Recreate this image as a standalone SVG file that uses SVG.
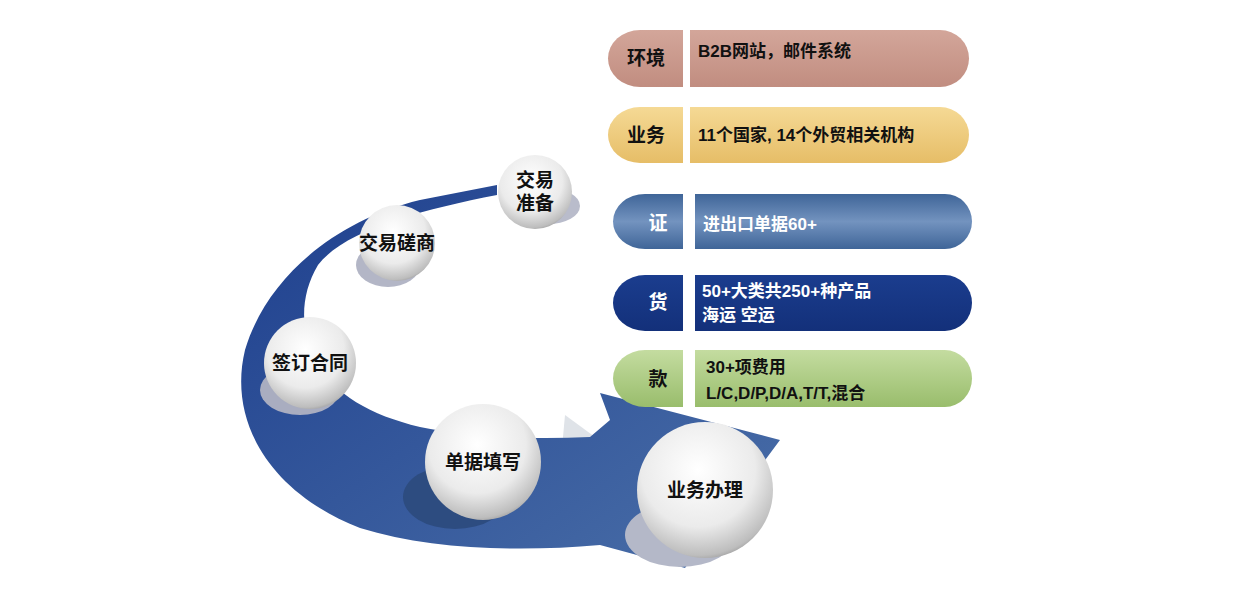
<svg xmlns="http://www.w3.org/2000/svg" width="1242" height="600" viewBox="0 0 1242 600">
<defs>
<style>
.t{font-family:"Liberation Sans","Noto Sans CJK SC",sans-serif;font-weight:bold}
.c{font-size:19px;fill:#111;text-anchor:middle}
.b{font-size:17px}
</style>
<radialGradient id="ball" cx="0.45" cy="0.35" r="0.7">
<stop offset="0" stop-color="#ffffff"/><stop offset="0.6" stop-color="#ebebeb"/><stop offset="0.9" stop-color="#bdbdbd"/><stop offset="1" stop-color="#8f8f8f"/>
</radialGradient>
<linearGradient id="sw" x1="0" y1="0" x2="1" y2="1">
<stop offset="0" stop-color="#1e3f8e"/><stop offset="1" stop-color="#4a6fa8"/>
</linearGradient>
<linearGradient id="g1" x1="0" y1="0" x2="0" y2="1"><stop offset="0" stop-color="#d3a69a"/><stop offset="1" stop-color="#c18d80"/></linearGradient>
<linearGradient id="g2" x1="0" y1="0" x2="0" y2="1"><stop offset="0" stop-color="#f5d995"/><stop offset="1" stop-color="#e6bd67"/></linearGradient>
<linearGradient id="g3" x1="0" y1="0" x2="0" y2="1"><stop offset="0" stop-color="#3f6598"/><stop offset="0.5" stop-color="#7393bf"/><stop offset="1" stop-color="#3f6598"/></linearGradient>
<linearGradient id="g4" x1="0" y1="0" x2="0" y2="1"><stop offset="0" stop-color="#1b3d8e"/><stop offset="1" stop-color="#13307a"/></linearGradient>
<linearGradient id="g5" x1="0" y1="0" x2="0" y2="1"><stop offset="0" stop-color="#c4dca0"/><stop offset="1" stop-color="#99bd6c"/></linearGradient>
</defs>
<rect width="1242" height="600" fill="#fff"/>
<g id="connectors">
<path d="M565,415 L640,470 L560,470 Z" fill="#dfe3e8"/>
<path d="M497,185 L420,200 C330,222 265,282 245,350 C228,420 268,492 360,528 C430,550 520,552 600,545 L685,568 L780,440 L600,393 L610,420 L590,437 C530,440 470,437 420,427 C370,415 335,395 315,360 C300,330 300,295 318,265 C345,230 420,210 497,195 Z" fill="url(#sw)"/>
</g>
<g id="n1"><ellipse cx="548" cy="206" rx="32" ry="18" fill="#b9bccb"/><circle cx="535" cy="192" r="37" fill="url(#ball)"/><text class="t c" x="535" y="187">交易</text><text class="t c" x="535" y="210">准备</text></g>
<g id="n2"><ellipse cx="388" cy="265" rx="32" ry="22" fill="#b3b6c6"/><circle cx="397" cy="243" r="38" fill="url(#ball)"/><text class="t c" x="397" y="250">交易磋商</text></g>
<g id="n3"><ellipse cx="300" cy="390" rx="40" ry="25" fill="#a9adc0"/><circle cx="310" cy="363" r="46" fill="url(#ball)"/><text class="t c" x="310" y="370">签订合同</text></g>
<g id="n4"><ellipse cx="455" cy="497" rx="52" ry="32" fill="#2d4c80"/><circle cx="483" cy="462" r="58" fill="url(#ball)"/><text class="t c" x="483" y="469">单据填写</text></g>
<g id="n5"><ellipse cx="680" cy="535" rx="55" ry="32" fill="#b4b8c8"/><circle cx="705" cy="490" r="68" fill="url(#ball)"/><text class="t c" x="705" y="497">业务办理</text></g>
<g id="r1"><path d="M683,30 L640,30 A32,28.5 0 0 0 640,87 L683,87 Z" fill="url(#g1)"/><path d="M690,30 L940,30 A29,28.5 0 0 1 940,87 L690,87 Z" fill="url(#g1)"/><text class="t c" x="646" y="65">环境</text><text class="t b" x="698" y="57" fill="#111">B2B网站，邮件系统</text></g>
<g id="r2"><path d="M683,107 L640,107 A32,28 0 0 0 640,163 L683,163 Z" fill="url(#g2)"/><path d="M690,107 L940,107 A29,28 0 0 1 940,163 L690,163 Z" fill="url(#g2)"/><text class="t c" x="646" y="142">业务</text><text class="t b" x="698" y="141" fill="#111">11个国家, 14个外贸相关机构</text></g>
<g id="r3"><path d="M683,194 L645,194 A32,27.5 0 0 0 645,249 L683,249 Z" fill="url(#g3)"/><path d="M695,194 L945,194 A27,27.5 0 0 1 945,249 L695,249 Z" fill="url(#g3)"/><text class="t c" x="658" y="230" style="fill:#fff">证</text><text class="t b" x="703" y="230" fill="#fff">进出口单据60+</text></g>
<g id="r4"><path d="M683,275 L645,275 A32,28 0 0 0 645,331 L683,331 Z" fill="url(#g4)"/><path d="M695,275 L945,275 A27,28 0 0 1 945,331 L695,331 Z" fill="url(#g4)"/><text class="t c" x="658" y="309" style="fill:#fff">货</text><text class="t b" x="702" y="297" fill="#fff">50+大类共250+种产品</text><text class="t b" x="702" y="321" fill="#fff">海运 空运</text></g>
<g id="r5"><path d="M683,350 L645,350 A32,28.5 0 0 0 645,407 L683,407 Z" fill="url(#g5)"/><path d="M695,350 L945,350 A27,28.5 0 0 1 945,407 L695,407 Z" fill="url(#g5)"/><text class="t c" x="658" y="386">款</text><text class="t b" x="706" y="373" fill="#111">30+项费用</text><text class="t b" x="706" y="399" fill="#111">L/C,D/P,D/A,T/T,混合</text></g>
</svg>
